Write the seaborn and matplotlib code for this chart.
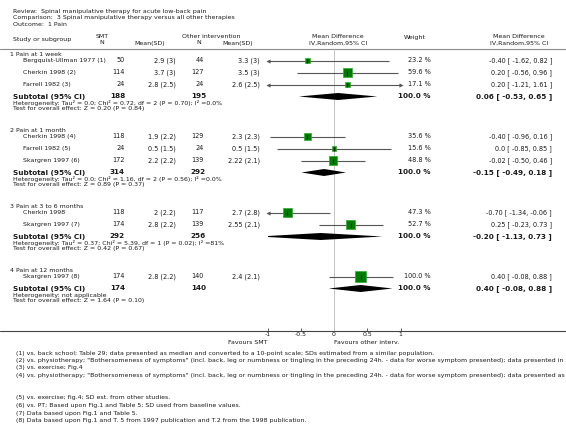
import matplotlib
matplotlib.use('Agg')
import matplotlib.pyplot as plt
import seaborn as sns

# ── data ──────────────────────────────────────────────────────────────────────
review = 'Spinal manipulative therapy for acute low-back pain'
comparison = '3 Spinal manipulative therapy versus all other therapies'
outcome = '1 Pain'

group_titles = ['1 Pain at 1 week', '2 Pain at 1 month',
                '3 Pain at 3 to 6 months', '4 Pain at 12 months']
study_group = [0, 0, 0, 1, 1, 1, 2, 2, 3]
studies = ['Bergquist-Ullman 1977 (1)', 'Cherkin 1998 (2)', 'Farrell 1982 (3)',
           'Cherkin 1998 (4)', 'Farrell 1982 (5)', 'Skargren 1997 (6)',
           'Cherkin 1998', 'Skargren 1997 (7)', 'Skargren 1997 (8)']
smt_n = [50, 114, 24, 118, 24, 172, 118, 174, 174]
smt_msd = ['2.9 (3)', '3.7 (3)', '2.8 (2.5)', '1.9 (2.2)', '0.5 (1.5)',
           '2.2 (2.2)', '2 (2.2)', '2.8 (2.2)', '2.8 (2.2)']
oth_n = [44, 127, 24, 129, 24, 139, 117, 139, 140]
oth_msd = ['3.3 (3)', '3.5 (3)', '2.6 (2.5)', '2.3 (2.3)', '0.5 (1.5)',
           '2.22 (2.1)', '2.7 (2.8)', '2.55 (2.1)', '2.4 (2.1)']
weight = [23.2, 59.6, 17.1, 35.6, 15.6, 48.8, 47.3, 52.7, 100.0]
md = [-0.40, 0.20, 0.20, -0.40, 0.0, -0.02, -0.70, 0.25, 0.40]
lo = [-1.62, -0.56, -1.21, -0.96, -0.85, -0.50, -1.34, -0.23, -0.08]
hi = [0.82, 0.96, 1.61, 0.16, 0.85, 0.46, -0.06, 0.73, 0.88]

sub_smt_n = [188, 314, 292, 174]
sub_oth_n = [195, 292, 256, 140]
sub_md = [0.06, -0.15, -0.20, 0.40]
sub_lo = [-0.53, -0.49, -1.13, -0.08]
sub_hi = [0.65, 0.18, 0.73, 0.88]
heterogeneity = ['Heterogeneity: Tau² = 0.0; Chi² = 0.72, df = 2 (P = 0.70); I² =0.0%',
                 'Heterogeneity: Tau² = 0.0; Chi² = 1.16, df = 2 (P = 0.56); I² =0.0%',
                 'Heterogeneity: Tau² = 0.37; Chi² = 5.39, df = 1 (P = 0.02); I² =81%',
                 'Heterogeneity: not applicable']
overall = ['Test for overall effect: Z = 0.20 (P = 0.84)',
           'Test for overall effect: Z = 0.89 (P = 0.37)',
           'Test for overall effect: Z = 0.42 (P = 0.67)',
           'Test for overall effect: Z = 1.64 (P = 0.10)']

x_ticks = [-1, -0.5, 0, 0.5, 1]
x_ticklabels = ['-1', '-0.5', '0', '0.5', '1']

footnotes = [
    '(1) vs. back school; Table 29; data presented as median and converted to a 10-point scale; SDs estimated from a similar population.',
    '(2) vs. physiotherapy; "Bothersomeness of symptoms" (incl. back, leg or numbness or tingling in the preceding 24h. - data for worse symptom presented); data presented in',
    '(3) vs. exercise; Fig.4',
    '(4) vs. physiotherapy; "Bothersomeness of symptoms" (incl. back, leg or numbness or tingling in the preceding 24h. - data for worse symptom presented); data presented as',
    '(5) vs. exercise; fig.4; SD est. from other studies.',
    '(6) vs. PT; Based upon Fig.1 and Table 5; SD used from baseline values.',
    '(7) Data based upon Fig.1 and Table 5.',
    '(8) Data based upon Fig.1 and T. 5 from 1997 publication and T.2 from the 1998 publication.',
]

# ── style ─────────────────────────────────────────────────────────────────────
sns.set_theme(style='white')
plt.rcParams['font.family'] = ['DejaVu Sans']
TXT = '#1a1a1a'
FS = 4.5      # regular text
FSB = 5.2     # bold subtotal text
FSN = 4.7     # numeric columns
GREEN = '#007a00'
CI_COL = '#555555'


def fmt(v):
    return '0.0' if v == 0 else f'{v:.2f}'


def ci_str(m, l, h):
    return f'{fmt(m)} [ {fmt(l)}, {fmt(h)} ]'


# ── row layout (pixel rows, top = 0) ──────────────────────────────────────────
rows_y, head_y, sub_y = [], [], []
y = 54
for g in range(len(group_titles)):
    head_y.append(y)
    y += 6.5
    for s in study_group:
        if s == g:
            rows_y.append(y)
            y += 12
    sub_y.append(y)
    y += 33.5

W, H = 566, 442
fig = plt.figure(figsize=(W / 100, H / 100), dpi=100)
ax = fig.add_axes([0, 0, 1, 1])
ax.set_xlim(0, W); ax.set_ylim(H, 0); ax.axis('off')

# header
for k, t in enumerate([f'Review:  {review}', f'Comparison:  {comparison}', f'Outcome:  {outcome}']):
    ax.text(13, 12 + 6 * k, t, fontsize=FS, color=TXT, va='center')
ax.text(13, 39, 'Study or subgroup', fontsize=FS, color=TXT, va='center')
ax.text(102, 37, 'SMT', fontsize=FS, color=TXT, va='center', ha='center')
ax.text(102, 43, 'N', fontsize=FS, color=TXT, va='center', ha='center')
ax.text(150, 43, 'Mean(SD)', fontsize=FS, color=TXT, va='center', ha='center')
ax.text(182, 37, 'Other intervention', fontsize=FS, color=TXT, va='center')
ax.text(199, 43, 'N', fontsize=FS, color=TXT, va='center', ha='center')
ax.text(238, 43, 'Mean(SD)', fontsize=FS, color=TXT, va='center', ha='center')
for cx in (338, 519):
    ax.text(cx, 37, 'Mean Difference', fontsize=FS, color=TXT, va='center', ha='center')
    ax.text(cx, 43, 'IV,Random,95% CI', fontsize=FS, color=TXT, va='center', ha='center')
ax.text(415, 37, 'Weight', fontsize=FS, color=TXT, va='center', ha='center')

ax.axhline(49, color='#8a8a8a', lw=0.8)
ax.axhline(331, color='#444444', lw=0.8)

# study rows
for i, yy in enumerate(rows_y):
    ax.text(23, yy, studies[i], fontsize=FS, color=TXT, va='center')
    ax.text(125, yy, str(smt_n[i]), fontsize=FSN, color=TXT, va='center', ha='right')
    ax.text(176, yy, smt_msd[i], fontsize=FSN, color=TXT, va='center', ha='right')
    ax.text(204, yy, str(oth_n[i]), fontsize=FSN, color=TXT, va='center', ha='right')
    ax.text(260, yy, oth_msd[i], fontsize=FSN, color=TXT, va='center', ha='right')
    ax.text(431, yy, f'{weight[i]:.1f} %', fontsize=FSN, color=TXT, va='center', ha='right')
    ax.text(552, yy, ci_str(md[i], lo[i], hi[i]), fontsize=FSN, color=TXT, va='center', ha='right')

# subgroup rows
for g, yy in enumerate(sub_y):
    ax.text(10, head_y[g], group_titles[g], fontsize=FS, color=TXT, va='center')
    ax.text(13, yy, 'Subtotal (95% CI)', fontsize=FSB, color=TXT, va='center', fontweight='bold')
    ax.text(125, yy, str(sub_smt_n[g]), fontsize=FSB, color=TXT, va='center', ha='right', fontweight='bold')
    ax.text(206, yy, str(sub_oth_n[g]), fontsize=FSB, color=TXT, va='center', ha='right', fontweight='bold')
    ax.text(431, yy, '100.0 %', fontsize=FSB, color=TXT, va='center', ha='right', fontweight='bold')
    ax.text(552, yy, ci_str(sub_md[g], sub_lo[g], sub_hi[g]), fontsize=FSB, color=TXT,
            va='center', ha='right', fontweight='bold')
    ax.text(13, yy + 6.5, heterogeneity[g], fontsize=FS, color=TXT, va='center')
    ax.text(13, yy + 12, overall[g], fontsize=FS, color=TXT, va='center')

# footnotes
for k, t in enumerate(footnotes):
    ax.text(16, 353 + 7.5 * (k if k < 4 else k + 2), t, fontsize=FS, color=TXT, va='center')

# ── forest panel ──────────────────────────────────────────────────────────────
X0, X1, Y0, Y1 = 267.5, 400.5, 49, 331
axf = fig.add_axes([X0 / W, 1 - Y1 / H, (X1 - X0) / W, (Y1 - Y0) / H])
axf.set_xlim(-1, 1); axf.set_ylim(Y1, Y0)
axf.patch.set_alpha(0)
for sp in axf.spines.values():
    sp.set_visible(False)
axf.set_yticks([])
axf.set_xticks(x_ticks)
axf.set_xticklabels(x_ticklabels)
axf.tick_params(axis='x', bottom=True, direction='in', length=2.5, width=0.6,
                color='#444444', labelsize=FS, labelcolor=TXT, pad=1)
axf.axvline(0, color='#c4c4c4', lw=0.7, zorder=1)

axf.hlines(rows_y, lo, hi, color=CI_COL, lw=0.8, zorder=2)
for i, yy in enumerate(rows_y):
    if lo[i] < -1:
        axf.plot(-1, yy, marker='<', ms=3, mew=0, color=CI_COL, clip_on=False)
    if hi[i] > 1:
        axf.plot(1, yy, marker='>', ms=3, mew=0, color=CI_COL, clip_on=False)

sns.scatterplot(x=md, y=rows_y, size=weight,
                sizes=(min(weight) * 0.72, max(weight) * 0.72),
                marker='s', color=GREEN, edgecolor='#33a833', linewidth=0.5,
                legend=False, ax=axf, zorder=3)
axf.scatter(md, rows_y, marker='|', s=5, color='black', linewidths=0.5, zorder=4)

for g, yy in enumerate(sub_y):
    axf.fill([sub_lo[g], sub_md[g], sub_hi[g], sub_md[g]],
             [yy, yy - 3.5, yy, yy + 3.5], color='black', lw=0, zorder=3)

axf.text(-1, 342, 'Favours SMT', fontsize=FS, color=TXT, va='center', ha='right')
axf.text(0, 342, 'Favours other interv.', fontsize=FS, color=TXT, va='center', ha='left')
axf.set_xlabel(''); axf.set_ylabel('')

fig.savefig('out.png', dpi=100, facecolor='white')
